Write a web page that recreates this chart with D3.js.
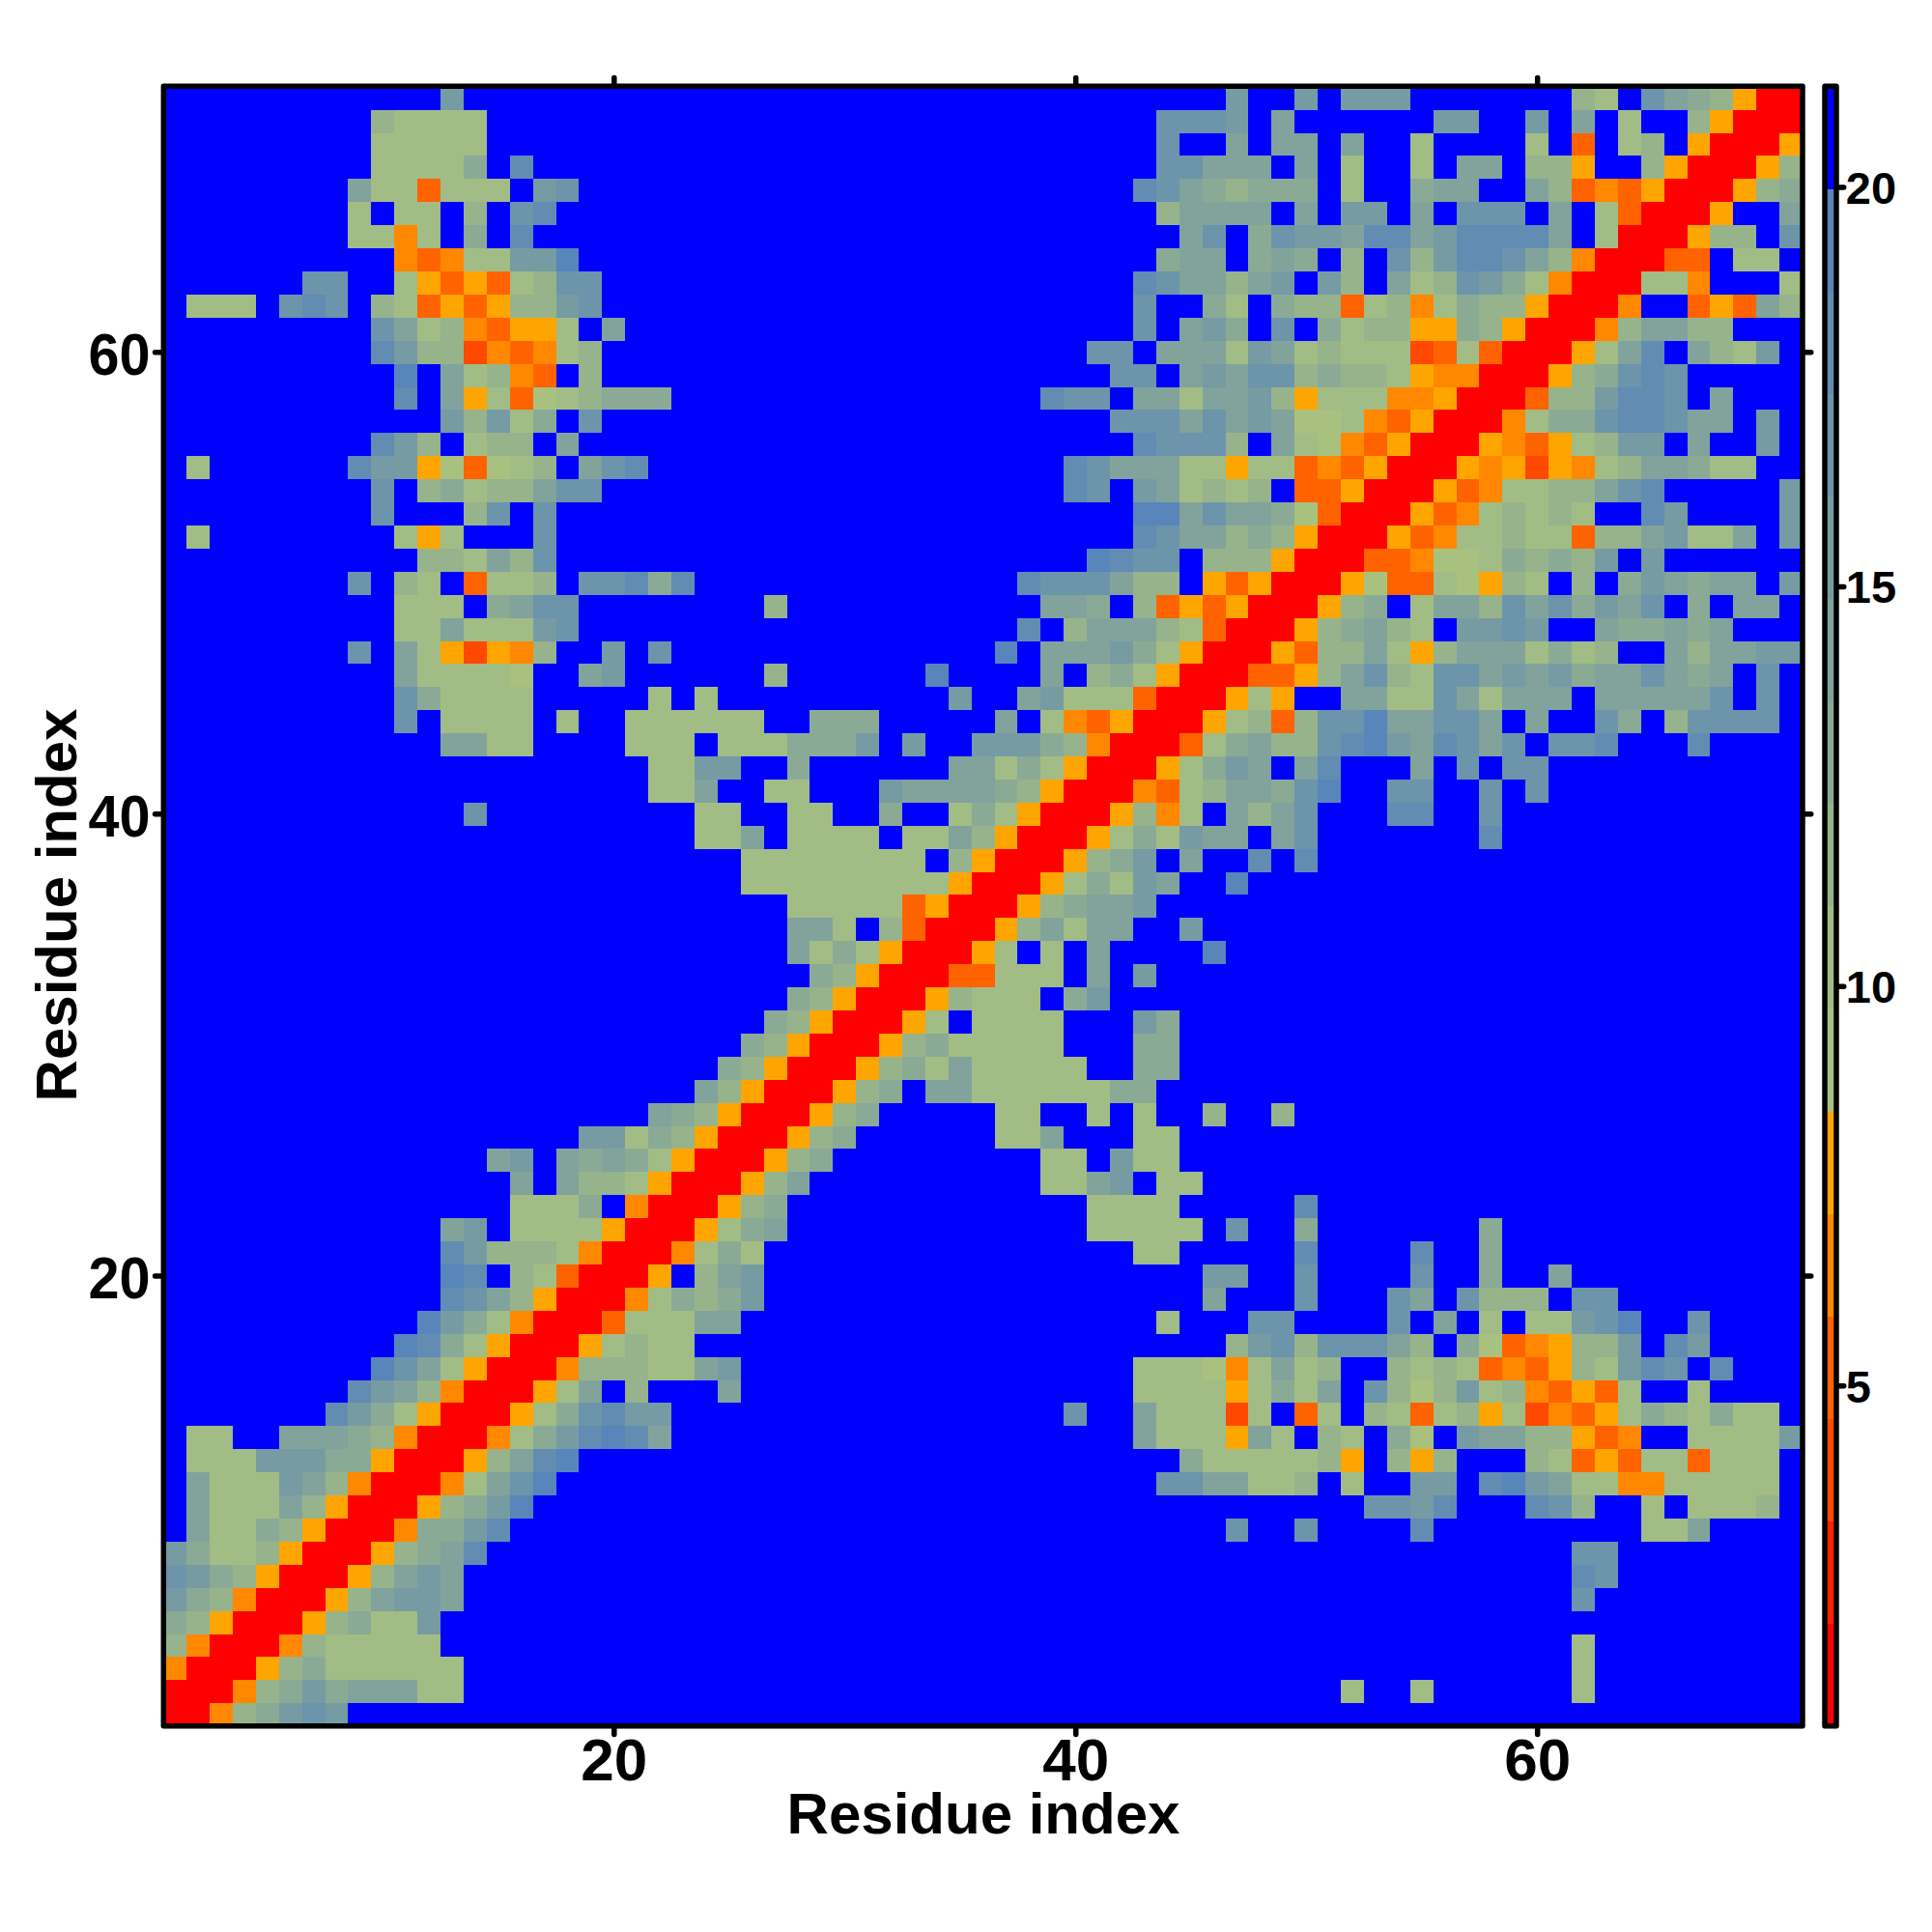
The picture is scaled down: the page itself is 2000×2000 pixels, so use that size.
<!DOCTYPE html>
<html>
<head>
<meta charset="utf-8">
<script src="https://cdnjs.cloudflare.com/ajax/libs/d3/7.8.5/d3.min.js"></script>
<style>
html,body{margin:0;padding:0;background:#fff}
svg{display:block}
text{font-family:"Liberation Sans",Arial,sans-serif;font-weight:bold;fill:#000}
</style>
</head>
<body>
<svg id="chart" width="2000" height="2000"></svg>
<script>
// Residue numbering and tick labels
const residues = d3.range(1, 72);
const axisTicks = [20, 40, 60];
const colorbarTicks = [5, 10, 15, 20];
const axisTitle = "Residue index";

// Colour bins of the distance scale (16 levels, low to high)
const distanceDomain = [0.74, 21.26];
const binColors = [
  "#ff0000","#ff2100","#ff4800","#ff6300","#ff8800","#ffa500",
  "#a9c17f","#a2bc85","#97b38c","#8baa95","#81a39c","#769ba3","#6c94ab","#628cb2","#5885ba",
  "#0000ff"
];

// Half of the symmetric map.
// One entry per residue y (71 down to 2): "firstX:binLevels" runs in hex, anything unlisted is the top bin.
const upperRows = [
"13:b 47:b 50:b 52:bbb 62:87fca9850",
"10:87777 44:cccbfa 56:bb 60:bfaf7ff850",
"10:77777 44:cffafaafaff7 60:7f3f78f50",
"10:77779fd 44:ccaaafaf7ff7faaf885ff850",
"9:a773777fbc 43:dca98999f7ff9aaffa834350",
"9:7f77f8fcd 44:8aaaafafbbfafcccfaf730",
"9:7747f9fd 45:acf9cbbaddabddddaf70",
"11:43477bbe 44:9aaf9a9f8fc8bddca840",
"7:ccff7535378cc 43:dcaa8abfb8fa78cb9740",
"2:777 6:cdcf87353588bc 43:cff97f9883784798850",
"10:ca7843557fa 43:cfab9fcf9788559850",
"10:db88243478 41:ccfaaa7ba7877723730",
"11:efa7843f8 42:ccfabacc898875440",
"11:dfa573678999 39:dccfaa7aab857774450",
"13:b8b79fc 42:cccacaba6674350",
"10:db8f788fa 43:dccc8fa764350",
"2:7 9:dbb563678facd 40:dcaaa7757734350",
"10:cf89788acc 40:dcfba7878f3350",
"10:c 14:8cfc 43:eeacaa9630",
"2:7 11:757 17:c 43:dcaa89850",
"12:887a8c 41:edccf88850",
"9:cf87f3778fccd9d 38:dccca88f5350",
"11:777f9acc 27:8 39:aa9f835350",
"11:77a777bc 38:df8aaa8730",
"9:c 11:a752548 20:b 22:c 37:e 39:aaab9750",
"11:a77776 19:ab 27:8 34:e 39:af89750",
"11:c97777 22:7 24:7 35:b 38:ab77730",
"11:c 13:7777 18:7 21:777777 29:999 37:a 39:74350",
"13:aa77 21:777 25:777999b 33:b 36:bbb9840",
"22:77bb 28:9 35:aa79750",
"22:77a 27:77 32:baaaa9850",
"14:c 24:77 28:77 32:9 35:79750",
"24:77a 28:7777 33:77a850",
"26:77777777 35:850",
"26:7777777 33:77 35:50",
"28:77777 33:350",
"28:aa7 32:830",
"28:a79750",
"29:9850",
"28:9850",
"27:9850",
"26:9850",
"25:9850",
"24:a850",
"22:a9850",
"19:bb79850",
"15:ab 18:a9a9750",
"16:a 18:a88750",
"16:7779f40",
"13:ab 16:777750",
"13:db888740",
"13:edf87 18:30",
"13:dca850",
"12:eb9740",
"11:ed9750",
"10:eca750",
"9:dba840",
"8:db9750",
"2:77 6:aaa9840",
"2:777bbb9950",
"2:a777ba840",
"2:a777a850",
"2:a779850",
"1:b977850",
"1:cb9850",
"1:b9840",
"1:9850",
"1:840",
"1:40",
"1:0"
];

const geom = {left:169.3, right:1866, top:89.2, bottom:1786.7, barLeft:1889, barRight:1901, frame:5.5};

const x = d3.scaleLinear().domain([0.5, 71.5]).range([geom.left, geom.right]);
const y = d3.scaleLinear().domain([0.5, 71.5]).range([geom.bottom, geom.top]);
const color = d3.scaleQuantize().domain(distanceDomain).range(binColors);
const binWidth = (distanceDomain[1] - distanceDomain[0]) / binColors.length;
const binValue = level => distanceDomain[0] + (level + 0.5) * binWidth;

// Expand the half map into a full symmetric matrix
const matrix = residues.map(() => residues.map(() => binValue(15)));
residues.forEach(r => { matrix[r-1][r-1] = binValue(0); });
upperRows.forEach((row, k) => {
  const ry = 71 - k;
  row.split(" ").forEach(seg => {
    const [start, levels] = seg.split(":");
    [...levels].forEach((ch, n) => {
      const rx = +start + n;
      const v = binValue(parseInt(ch, 16));
      matrix[ry-1][rx-1] = v;
      matrix[rx-1][ry-1] = v;
    });
  });
});

const cells = [];
residues.forEach(ry => residues.forEach(rx => cells.push({rx, ry, value: matrix[ry-1][rx-1]})));

const svg = d3.select("#chart");
svg.append("rect").attr("width",2000).attr("height",2000).attr("fill","#fff");

const cw = x(2) - x(1), ch = y(1) - y(2);
svg.append("g").attr("shape-rendering","crispEdges")
  .selectAll("rect").data(cells).join("rect")
  .attr("x", d => x(d.rx - 0.5))
  .attr("y", d => y(d.ry + 0.5))
  .attr("width", cw + 0.5)
  .attr("height", ch + 0.5)
  .attr("fill", d => color(d.value));

svg.append("rect")
  .attr("x", geom.left).attr("y", geom.top)
  .attr("width", geom.right-geom.left).attr("height", geom.bottom-geom.top)
  .attr("fill","none").attr("stroke","#000").attr("stroke-width",geom.frame).attr("stroke-linejoin","round");

function styleAxis(g, fontSize){
  g.select(".domain").remove();
  g.selectAll(".tick line").attr("stroke","#000").attr("stroke-width",5.5).attr("stroke-linecap","round");
  g.selectAll("text").attr("font-size",fontSize).attr("font-family",'"Liberation Sans",Arial,sans-serif').attr("font-weight","bold").attr("fill","#000");
}
const edge = geom.frame/2;
svg.append("g").attr("transform",`translate(0,${geom.bottom+edge})`)
  .call(d3.axisBottom(x).tickValues(axisTicks).tickFormat(d3.format("d")).tickSize(6).tickPadding(4))
  .call(g=>styleAxis(g,62));
svg.append("g").attr("transform",`translate(0,${geom.top-edge})`)
  .call(d3.axisTop(x).tickValues(axisTicks).tickFormat("").tickSize(6))
  .call(g=>styleAxis(g,62));
svg.append("g").attr("transform",`translate(${geom.left-edge},0)`)
  .call(d3.axisLeft(y).tickValues(axisTicks).tickFormat(d3.format("d")).tickSize(6).tickPadding(5))
  .call(g=>styleAxis(g,62))
  .call(g=>g.selectAll("text").attr("textLength",64).attr("lengthAdjust","spacingAndGlyphs").attr("dy","0.37em"));
svg.append("g").attr("transform",`translate(${geom.right+edge},0)`)
  .call(d3.axisRight(y).tickValues(axisTicks).tickFormat("").tickSize(6))
  .call(g=>styleAxis(g,62));

svg.append("text").attr("x",1018).attr("y",1898).attr("text-anchor","middle").attr("font-size",60).text(axisTitle);
svg.append("text").attr("transform","translate(78.5,937) rotate(-90)").attr("text-anchor","middle").attr("font-size",60).text(axisTitle);

// Colour bar
const barY = d3.scaleLinear().domain(distanceDomain).range([geom.bottom, geom.top]);
svg.append("g").attr("shape-rendering","crispEdges")
  .selectAll("rect").data(binColors).join("rect")
  .attr("x", geom.barLeft).attr("width", geom.barRight-geom.barLeft)
  .attr("y", (d,i)=> barY(distanceDomain[0]+(i+1)*binWidth))
  .attr("height", (d,i)=> barY(distanceDomain[0]+i*binWidth)-barY(distanceDomain[0]+(i+1)*binWidth)+0.5)
  .attr("fill", d=>d);
svg.append("rect")
  .attr("x", geom.barLeft).attr("y", geom.top)
  .attr("width", geom.barRight-geom.barLeft).attr("height", geom.bottom-geom.top)
  .attr("fill","none").attr("stroke","#000").attr("stroke-width",geom.frame).attr("stroke-linejoin","round");
svg.append("g").attr("transform",`translate(${geom.barRight+edge},0)`)
  .call(d3.axisRight(barY).tickValues(colorbarTicks).tickFormat(d3.format("d")).tickSize(5).tickPadding(2))
  .call(g=>styleAxis(g,47))
  .call(g=>g.selectAll("text").attr("dy","0.36em"));
</script>
</body>
</html>
